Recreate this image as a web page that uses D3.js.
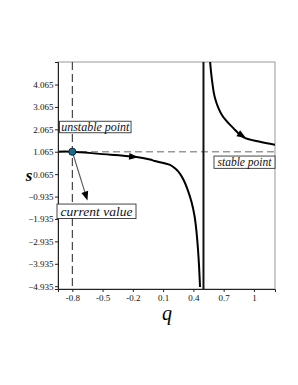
<!DOCTYPE html>
<html><head><meta charset="utf-8">
<script src="https://cdn.jsdelivr.net/npm/d3@7"></script>
<style>body{margin:0;background:#fff}svg{display:block}</style>
</head><body>
<script>
// ---- data ----
const leftQ = [-0.942, -0.796, -0.525, -0.179, -0.030, 0.019, 0.168, 0.218, 0.268, 0.307, 0.347, 0.381, 0.411, 0.431, 0.446, 0.456, 0.466];
const leftS = [1.07, 1.065, 0.97, 0.84, 0.717, 0.65, 0.48, 0.325, 0.08, -0.23, -0.68, -1.17, -1.79, -2.51, -3.31, -4.03, -4.97];
const rightQ = [0.566, 0.582, 0.614, 0.681, 0.796, 0.895, 1.05, 1.209];
const rightS = [5.07, 4.35, 3.46, 2.72, 2.12, 1.72, 1.52, 1.38];
const yTicks = [4.065, 3.065, 2.065, 1.065, 0.065, -0.935, -1.935, -2.935, -3.935, -4.935];
const xTicks = [-0.8, -0.5, -0.2, 0.1, 0.4, 0.7, 1];
const fixedS = 1.065, unstableQ = -0.8, asymQ = 0.5;
const currentValue = [-0.65, -1.11];
const labels = ["unstable point", "current value", "stable point"];

const W = 298, H = 385;
const svg = d3.select("body").append("svg").attr("width", W).attr("height", H);
const x = d3.scaleLinear().domain([-0.942, 1.209]).range([58, 275]);
const y = d3.scaleLinear().domain([-5.06, 5.07]).range([289, 62]);
const serif = "Liberation Serif, Times New Roman, serif";

// frame
svg.append("rect").attr("x", 58).attr("y", 62).attr("width", 217).attr("height", 227)
  .attr("fill", "none").attr("stroke", "#999").attr("stroke-width", 1);

const defs = svg.append("defs");
defs.append("clipPath").attr("id", "clip").append("rect")
  .attr("x", 58).attr("y", 62).attr("width", 217).attr("height", 227);
const g = svg.append("g").attr("clip-path", "url(#clip)");

// dashed guides
g.append("line").attr("x1", 58).attr("x2", 275).attr("y1", y(fixedS)).attr("y2", y(fixedS))
  .attr("stroke", "#999").attr("stroke-width", 1.6).attr("stroke-dasharray", "7,4");
g.append("line").attr("x1", x(unstableQ)).attr("x2", x(unstableQ)).attr("y1", 62).attr("y2", 289)
  .attr("stroke", "#222").attr("stroke-width", 1).attr("stroke-dasharray", "8,4");
// asymptote
g.append("line").attr("x1", x(asymQ)).attr("x2", x(asymQ)).attr("y1", 62).attr("y2", 289)
  .attr("stroke", "#111").attr("stroke-width", 2);

const line = d3.line().x(d => x(d[0])).y(d => y(d[1])).curve(d3.curveCatmullRom.alpha(0.5));
const leftPts = leftQ.map((q, i) => [q, leftS[i]]);
const rightPts = rightQ.map((q, i) => [q, rightS[i]]);
g.append("path").attr("d", line(leftPts)).attr("fill", "none").attr("stroke", "#000").attr("stroke-width", 2);
g.append("path").attr("d", line(rightPts)).attr("fill", "none").attr("stroke", "#000").attr("stroke-width", 2);

function arrowHead(tipX, tipY, ang, len, wid) {
  const bx = tipX - len * Math.cos(ang), by = tipY - len * Math.sin(ang);
  const px = -Math.sin(ang) * wid / 2, py = Math.cos(ang) * wid / 2;
  svg.append("path").attr("d", `M${tipX},${tipY}L${bx + px},${by + py}L${bx - px},${by - py}Z`).attr("fill", "#000");
}
// arrows along curves
[[-0.30, 0.885, -0.148, 0.82], [0.83, 1.93, 0.921, 1.68]].forEach(a => {
  const x1 = x(a[0]), y1 = y(a[1]), x2 = x(a[2]), y2 = y(a[3]);
  arrowHead(x2, y2, Math.atan2(y2 - y1, x2 - x1), 9, 7);
});

// current value arrow
{
  const x1 = x(unstableQ), y1 = y(fixedS), x2 = x(currentValue[0]), y2 = y(currentValue[1]);
  const ang = Math.atan2(y2 - y1, x2 - x1);
  svg.append("line").attr("x1", x1).attr("y1", y1).attr("x2", x2 - 8 * Math.cos(ang)).attr("y2", y2 - 8 * Math.sin(ang))
    .attr("stroke", "#555").attr("stroke-width", 1.1);
  arrowHead(x2, y2, ang, 9, 7);
}
// unstable point marker
svg.append("circle").attr("cx", x(unstableQ)).attr("cy", y(fixedS)).attr("r", 3.6)
  .attr("fill", "#1d6a8a").attr("stroke", "#0b2a38").attr("stroke-width", 1);

// axes
const yAxis = svg.append("g").attr("transform", "translate(58,0)")
  .call(d3.axisLeft(y).tickValues(yTicks).tickSize(3).tickFormat(d3.format(".3f")));
const xAxis = svg.append("g").attr("transform", "translate(0,289)")
  .call(d3.axisBottom(x).tickValues(xTicks).tickSize(3).tickFormat(d => String(d)));
[yAxis, xAxis].forEach(a => {
  a.attr("font-family", null).attr("font-size", null);
  a.select(".domain").attr("stroke", "#222");
  a.selectAll(".tick line").attr("stroke", "#222");
  a.selectAll("text").style("font-family", serif).style("font-size", "9px").attr("fill", "#111");
});
yAxis.selectAll("text").attr("x", -4.5);
xAxis.selectAll("text").attr("y", 6);

// axis titles
svg.append("text").attr("x", 29).attr("y", 181).attr("text-anchor", "middle")
  .style("font-family", serif).style("font-style", "italic").style("font-weight", "bold").style("font-size", "17px").text("s");
svg.append("text").attr("x", 167).attr("y", 320).attr("text-anchor", "middle")
  .style("font-family", serif).style("font-style", "italic").style("font-size", "20px").text("q");

// label boxes
function box(txt, cx, cy, w, h, fs) {
  svg.append("rect").attr("x", cx - w / 2).attr("y", cy - h / 2).attr("width", w).attr("height", h)
    .attr("fill", "#fff").attr("stroke", "#333").attr("stroke-width", 0.9);
  svg.append("text").attr("x", cx).attr("y", cy).attr("dy", "0.33em").attr("text-anchor", "middle")
    .style("font-family", serif).style("font-style", "italic").style("font-size", fs + "px").attr("fill", "#111").text(txt);
}
box(labels[0], 95.3, 127, 71.5, 11.5, 12);
box(labels[1], 96.5, 211.3, 79, 14.5, 13.5);
box(labels[2], 244.5, 162.2, 61, 12.3, 11.5);
</script>
</body></html>
